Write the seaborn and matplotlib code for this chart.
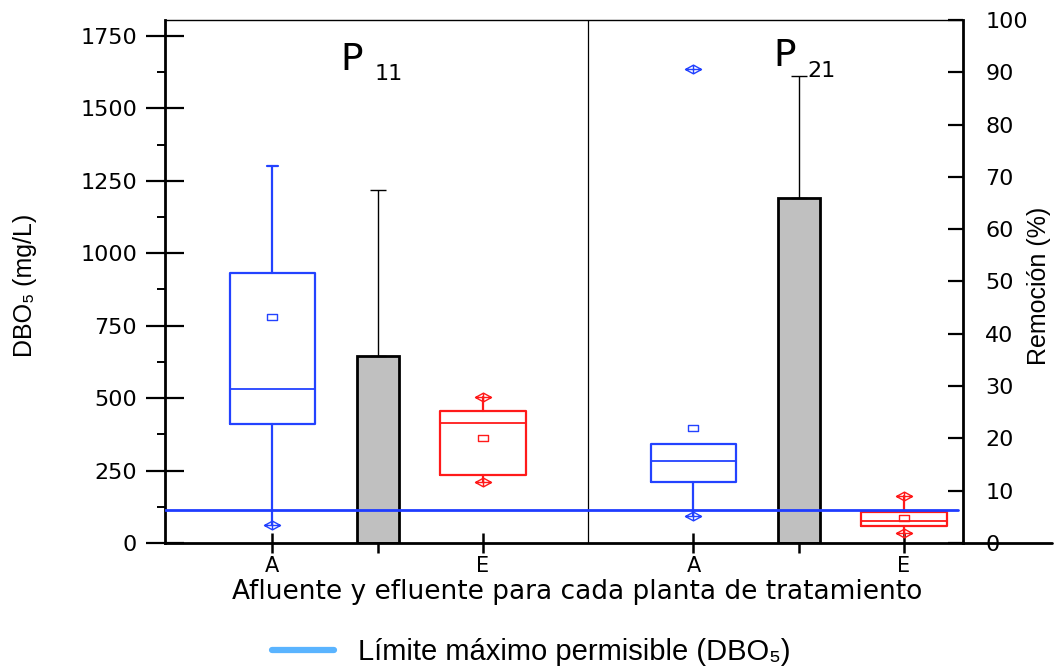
import matplotlib
matplotlib.use("Agg")
import matplotlib.pyplot as plt
import seaborn as sns
import numpy as np
import pandas as pd
from matplotlib.path import Path
from matplotlib.lines import Line2D

# ---- data -------------------------------------------------------------
# DBO5 box summaries (mg/L) for influent (A) and effluent (E) of each plant
box_pos = [1, 3, 5, 7]
box_labels = ["A", "E", "A", "E"]
box_colors = ["#2342ff", "#ff1a1a", "#2342ff", "#ff1a1a"]
whisker_low = [62, 209, 93, 36]
q1 = [411, 235, 209, 59]
median = [531, 415, 284, 77]
q3 = [931, 457, 342, 108]
whisker_high = [1300, 503, 342, 162]
mean_dbo = [781, 364, 396, 85]
extremes = [[62], [503, 209], [93, 1636], [162, 36]]
top_cap = [True, False, False, False]

# removal efficiency (%) per plant
bar_pos = [2, 6]
removal_mean = [35.8, 65.9]
removal_err = [31.7, 23.3]

plants = ["P11", "P21"]
plant_sep = 4
limit_dbo5 = 114

# ---- style ------------------------------------------------------------
sns.set_style("ticks", {"axes.edgecolor": "black", "xtick.color": "black",
                        "ytick.color": "black", "text.color": "black",
                        "axes.labelcolor": "black"})
plt.rcParams["font.family"] = ["DejaVu Sans"]
label_font = ["Liberation Sans", "DejaVu Sans"]

W, H = 1055, 668
fig = plt.figure(figsize=(W / 100, H / 100), dpi=100)
ax = fig.add_axes([165 / W, 1 - 543 / H, (963 - 165) / W, (543 - 20) / H])
ax2 = ax.twinx()
ax.set_zorder(ax2.get_zorder() + 1)
ax.patch.set_visible(False)

# ---- removal bars (right axis) ----------------------------------------
bar_width = 0.4
df_bar = pd.DataFrame({"pos": bar_pos, "removal": removal_mean})
sns.barplot(data=df_bar, x="pos", y="removal", native_scale=True,
            width=bar_width / np.min(np.diff(bar_pos)), color="#c0c0c0",
            saturation=1, edgecolor="black", linewidth=2, errorbar=None,
            ax=ax2)
ax2.errorbar(bar_pos, removal_mean, yerr=[np.zeros(len(bar_pos)), removal_err],
             fmt="none", ecolor="black", elinewidth=1, capsize=5.8, capthick=1)

# ---- DBO5 boxes (left axis) -------------------------------------------
diamond = Path([(-1, 0), (0, 0.55), (1, 0), (0, -0.55), (-1, 0),
                (-1, 0), (1, 0), (0, 0.55), (0, -0.55)],
               [Path.MOVETO, Path.LINETO, Path.LINETO, Path.LINETO, Path.CLOSEPOLY,
                Path.MOVETO, Path.LINETO, Path.MOVETO, Path.LINETO])
square = Path([(-1, -0.6), (1, -0.6), (1, 0.6), (-1, 0.6), (-1, -0.6)],
              [Path.MOVETO, Path.LINETO, Path.LINETO, Path.LINETO, Path.CLOSEPOLY])

stats = [dict(whislo=whisker_low[i], q1=q1[i], med=median[i], q3=q3[i],
              whishi=whisker_high[i], mean=mean_dbo[i], fliers=extremes[i])
         for i in range(len(box_pos))]
bp = ax.bxp(stats, positions=box_pos, widths=0.81, capwidths=0.11,
            showmeans=True, showcaps=True, manage_ticks=False,
            boxprops=dict(linewidth=1.6), whiskerprops=dict(linewidth=1.6),
            capprops=dict(linewidth=1.6), medianprops=dict(linewidth=1.3),
            meanprops=dict(marker=square, markersize=7, markerfacecolor="none",
                           markeredgewidth=1),
            flierprops=dict(marker=diamond, markersize=11.5,
                            markerfacecolor="none", markeredgewidth=1))
for i, c in enumerate(box_colors):
    bp["boxes"][i].set_color(c)
    bp["medians"][i].set_color(c)
    bp["means"][i].set_markeredgecolor(c)
    bp["fliers"][i].set_markeredgecolor(c)
    for j in (2 * i, 2 * i + 1):
        bp["whiskers"][j].set_color(c)
        bp["caps"][j].set_color(c)
    bp["caps"][2 * i].set_visible(False)
    bp["caps"][2 * i + 1].set_visible(top_cap[i])

ax.axhline(limit_dbo5, xmin=0, xmax=0.994, color="#1f3cff", lw=2, zorder=5)
ax.axvline(plant_sep, color="black", lw=0.9)

# ---- axes -------------------------------------------------------------
ax.set_xlim(-0.02, 7.56)
ax.set_ylim(0, 1805)
ax2.set_ylim(0, 100)

ax.set_xticks(box_pos, box_labels)
ax.set_xticks(bar_pos, minor=True)
ax.set_yticks(np.arange(0, 1751, 250))
ax.set_yticks(np.arange(125, 1751, 250), minor=True)
ax2.set_yticks(np.arange(0, 101, 10))

ax.tick_params(axis="y", which="major", direction="inout", length=28, width=1.6,
               labelsize=16, pad=6, right=False)
ax.tick_params(axis="y", which="minor", direction="out", length=6, width=1.4,
               right=False)
ax.tick_params(axis="x", which="major", direction="inout", length=14, width=1.8,
               labelsize=15, pad=2.5, top=False)
ax.tick_params(axis="x", which="minor", direction="out", length=7, width=1.8,
               top=False)
ax2.tick_params(axis="y", which="major", direction="in", length=11, width=1.6,
                labelsize=16, pad=16)

for s in ("left", "bottom"):
    ax.spines[s].set_linewidth(2)
ax.spines["top"].set_linewidth(1)
ax.spines["right"].set_visible(False)
for s in ("left", "bottom", "top"):
    ax2.spines[s].set_visible(False)
ax2.spines["right"].set_linewidth(2)

# bottom rule continues beyond the right axis
fig.add_artist(Line2D([963 / W, 1052 / W], [1 - 543 / H, 1 - 543 / H],
                      color="black", lw=2))

ax.set_xlabel("Afluente y efluente para cada planta de tratamiento",
              fontsize=19)
ax.xaxis.set_label_coords((577 - 165) / 798, (543 - 579) / 523)

ax.set_ylabel("DBO₅ (mg/L)", family=label_font, fontsize=18)
ax.yaxis.set_label_coords((25 - 165) / 798, (543 - 285) / 523)
ax.yaxis.label.set_va("center")
ax2.set_ylabel("Remoción (%)", family=label_font, fontsize=18, rotation=90)
ax2.yaxis.set_label_coords((1039 - 165) / 798, (543 - 286) / 523)
ax2.yaxis.label.set_va("center")

# plant titles
title_xy = [(340, 70, 375, 80), (773, 66, 807, 77)]
for name, (px, py, sx, sy) in zip(plants, title_xy):
    fig.text(px / W, 1 - py / H, name[0], fontsize=27, ha="left", va="baseline")
    fig.text(sx / W, 1 - sy / H, name[1:], fontsize=16, ha="left", va="baseline")

# legend
em = 21 * 100 / 72
fig.legend(handles=[Line2D([], [], color="#5ab4ff", lw=4.5)],
           labels=["Límite máximo permisible (DBO₅)"],
           loc="center left", bbox_to_anchor=(272 / W, 1 - 652 / H),
           frameon=False, prop=dict(family=label_font, size=21),
           handlelength=62 / em, handletextpad=24 / em, borderpad=0,
           borderaxespad=0)

fig.savefig("out.png", dpi=100)
